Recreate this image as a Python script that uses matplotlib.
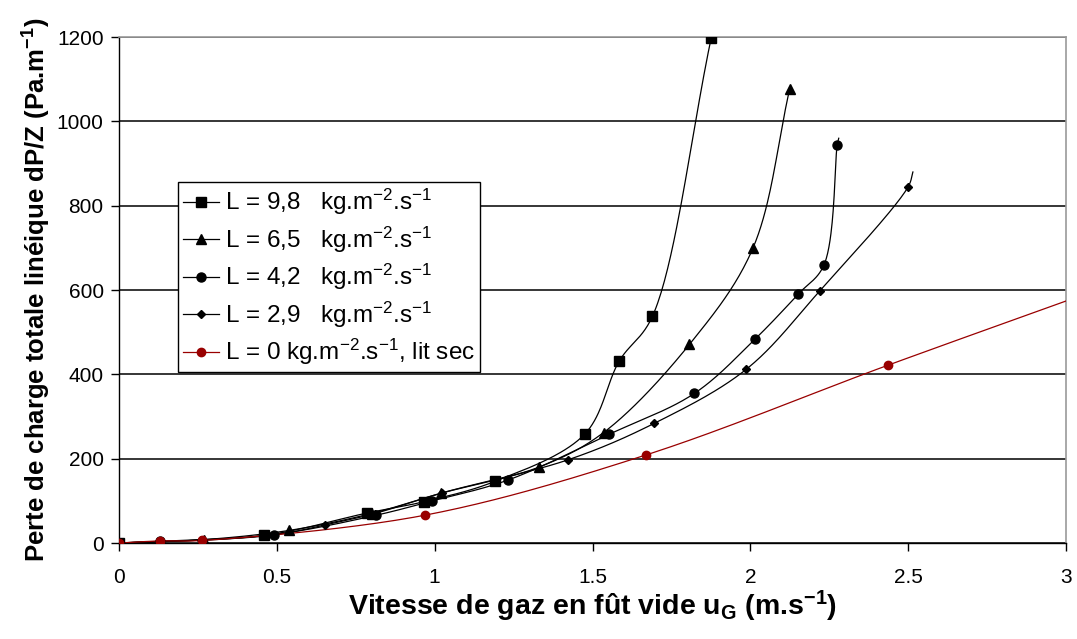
import matplotlib
matplotlib.use("Agg")
import matplotlib.pyplot as plt
import numpy as np

plt.rcParams["font.family"] = ["Liberation Sans", "DejaVu Sans"]
plt.rcParams["mathtext.fontset"] = "custom"
plt.rcParams["mathtext.rm"] = "Liberation Sans"
plt.rcParams["mathtext.bf"] = "Liberation Sans:bold"
plt.rcParams["mathtext.it"] = "Liberation Sans:italic"

# pressure drop per unit height vs superficial gas velocity, one run per liquid load
x_98 = [0, 0.46, 0.785, 0.966, 1.19, 1.475, 1.585, 1.69, 1.876]
y_98 = [0, 18, 71, 98, 146, 258, 432, 538, 1198]

x_65 = [0, 0.27, 0.54, 0.80, 1.02, 1.33, 1.535, 1.807, 2.008, 2.125]
y_65 = [0, 8, 30, 70, 118, 180, 262, 471, 699, 1078]

x_42 = [0, 0.13, 0.49, 0.815, 0.993, 1.231, 1.553, 1.823, 2.014, 2.151, 2.233, 2.275]
y_42 = [0, 4, 20, 66, 100, 149, 258, 355, 483, 590, 659, 943]

x_29 = [0, 0.26, 0.49, 0.654, 0.81, 1.024, 1.421, 1.696, 1.987, 2.22, 2.50]
y_29 = [0, 7, 19, 43, 70, 119, 197, 284, 412, 598, 845]

# dry bed (no liquid)
x_dry = [0, 0.13, 0.262, 0.969, 1.67, 2.437]
y_dry = [0, 5, 6, 66, 209, 422]

# curve ends that run past the last measured point
tail_42 = (2.28, 960)
tail_29 = (2.515, 880)
tail_dry = (3.0, 574)

XMAX, YMAX = 3.0, 1200.0
ASPECT = 506 / 947  # axes height / width in pixels


def smooth(xs, ys, n=40, alpha=0.5):
    """Centripetal Catmull-Rom through the points, parametrised in screen space."""
    p = np.column_stack([np.asarray(xs, float) / XMAX,
                         np.asarray(ys, float) / YMAX * ASPECT])
    p = np.vstack([2 * p[0] - p[1], p, 2 * p[-1] - p[-2]])
    out = []
    for i in range(1, len(p) - 2):
        P0, P1, P2, P3 = p[i - 1], p[i], p[i + 1], p[i + 2]
        t0 = 0.0
        t1 = t0 + max(np.linalg.norm(P1 - P0), 1e-9) ** alpha
        t2 = t1 + max(np.linalg.norm(P2 - P1), 1e-9) ** alpha
        t3 = t2 + max(np.linalg.norm(P3 - P2), 1e-9) ** alpha
        t = np.linspace(t1, t2, n)[:, None]
        A1 = (t1 - t) / (t1 - t0) * P0 + (t - t0) / (t1 - t0) * P1
        A2 = (t2 - t) / (t2 - t1) * P1 + (t - t1) / (t2 - t1) * P2
        A3 = (t3 - t) / (t3 - t2) * P2 + (t - t2) / (t3 - t2) * P3
        B1 = (t2 - t) / (t2 - t0) * A1 + (t - t0) / (t2 - t0) * A2
        B2 = (t3 - t) / (t3 - t1) * A2 + (t - t1) / (t3 - t1) * A3
        C = (t2 - t) / (t2 - t1) * B1 + (t - t1) / (t2 - t1) * B2
        out.append(C if i == 1 else C[1:])
    c = np.vstack(out)
    return c[:, 0] * XMAX, c[:, 1] / ASPECT * YMAX


fig = plt.figure(figsize=(10.77, 6.39), dpi=100)
ax = fig.add_axes([0.1105, 0.1502, 0.8793, 0.7918])

unit = "kg.m$^{-2}$.s$^{-1}$"
series = [
    (x_98, y_98, None, "s", 7, "k", "L = 9,8   " + unit),
    (x_65, y_65, None, "^", 7, "k", "L = 6,5   " + unit),
    (x_42, y_42, tail_42, "o", 6.5, "k", "L = 4,2   " + unit),
    (x_29, y_29, tail_29, "D", 4.5, "k", "L = 2,9   " + unit),
    (x_dry, y_dry, tail_dry, "o", 6, "#990000", "L = 0 " + unit + ", lit sec"),
]

for xs, ys, tail, mk, ms, col, lab in series:
    cx, cy = list(xs), list(ys)
    if tail is not None:
        cx.append(tail[0])
        cy.append(tail[1])
    sx, sy = smooth(cx, cy)
    ax.plot(sx, sy, color=col, lw=0.9, zorder=3)
    ax.plot(xs, ys, ls="none", marker=mk, ms=ms, color=col, zorder=4)
    ax.plot([], [], color=col, lw=0.9, marker=mk, ms=ms, label=lab)

ax.set_xlim(0, XMAX)
ax.set_ylim(0, YMAX)
ax.set_xticks([0, 0.5, 1, 1.5, 2, 2.5, 3])
ax.set_xticklabels(["0", "0.5", "1", "1.5", "2", "2.5", "3"])
ax.set_yticks(range(0, 1201, 200))
ax.grid(axis="y", color="black", lw=1.1)
ax.set_axisbelow(True)

for s in ("top", "right"):
    ax.spines[s].set_color("#9a9a9a")
    ax.spines[s].set_linewidth(1.2)
for s in ("left", "bottom"):
    ax.spines[s].set_color("black")
    ax.spines[s].set_linewidth(1.0)

ax.tick_params(axis="both", direction="out", length=6, width=1, labelsize=15, pad=5)
ax.tick_params(axis="x", pad=12)

ax.set_xlabel("Vitesse de gaz en fût vide u$_\\mathbf{G}$ (m.s$^\\mathbf{-1}$)",
              fontsize=20.5, fontweight="bold", labelpad=1)
ax.set_ylabel("Perte de charge totale linéique dP/Z (Pa.m$^\\mathbf{-1}$)",
              fontsize=18.5, fontweight="bold", labelpad=3)

leg = ax.legend(loc="upper left", bbox_to_anchor=(0.062, 0.713), fontsize=17.5,
                frameon=True, fancybox=False, edgecolor="black", framealpha=1,
                handlelength=1.5, handletextpad=0.25, borderpad=0.2,
                labelspacing=0.3, borderaxespad=0)
leg.get_frame().set_linewidth(1.0)

fig.savefig("out.png", dpi=100)
